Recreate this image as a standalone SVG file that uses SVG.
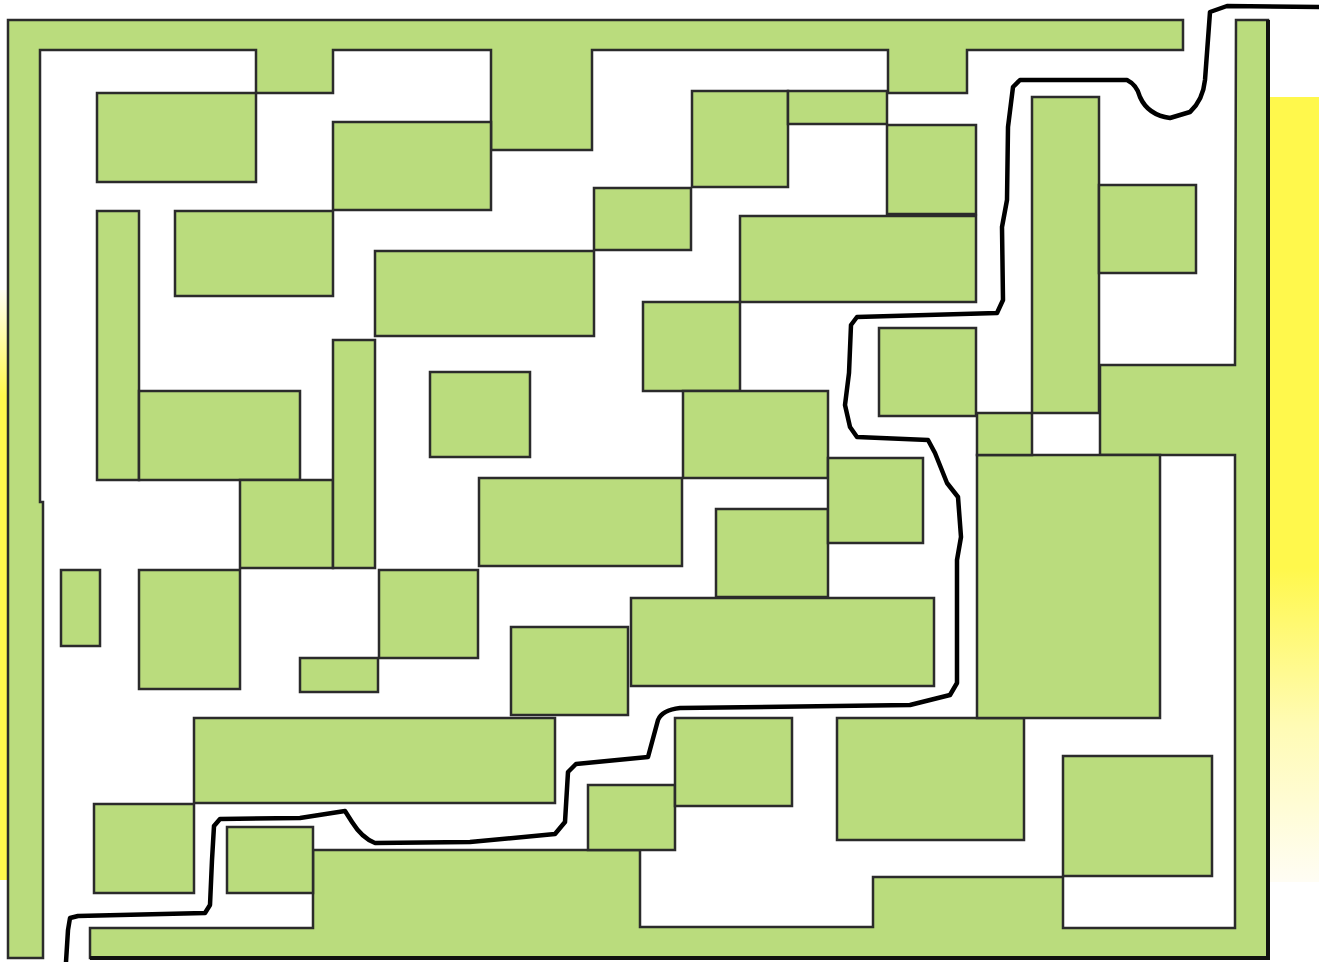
<svg xmlns="http://www.w3.org/2000/svg" width="1319" height="962" viewBox="0 0 1319 962">
<defs>
<linearGradient id="gR" x1="0" y1="0" x2="0" y2="1">
<stop offset="0" stop-color="#fff84c"/>
<stop offset="0.6" stop-color="#fff84c"/>
<stop offset="0.8" stop-color="#fffbb4"/>
<stop offset="1" stop-color="#fffdf4"/>
</linearGradient>
<linearGradient id="gL" x1="0" y1="0" x2="0" y2="1">
<stop offset="0" stop-color="#fffef2"/>
<stop offset="0.18" stop-color="#fff84c"/>
<stop offset="1" stop-color="#fff84c"/>
</linearGradient>
</defs>
<style>
.b{fill:#badc7d;stroke:#2b2b2b;stroke-width:2.5;stroke-linejoin:miter}
.edge{fill:none;stroke:#111;stroke-width:4}
.path{fill:none;stroke:#000;stroke-width:4.5;stroke-linejoin:round;stroke-linecap:round}
</style>
<rect width="1319" height="962" fill="#ffffff"/>
<rect x="1266" y="97" width="53" height="785" fill="url(#gR)"/>
<rect x="0" y="290" width="9" height="590" fill="url(#gL)"/>
<g id="frame-top-left">
<polygon class="b" points="8,20 1183,20 1183,50 967,50 967,93 888,93 888,50 592,50 592,150 491,150 491,50 333,50 333,93 256,93 256,50 40,50 40,502 43,502 43,958 8,958"/>
</g>
<g id="frame-bottom-right">
<polygon class="b" points="1236,20 1268,20 1268,958 90,958 90,928 313,928 313,850 640,850 640,927 873,927 873,877 1063,877 1063,928 1235,928 1235,455 1100,455 1100,365 1235,365"/>
<polyline class="edge" points="1268,20 1268,958 90,958"/>
</g>
<g id="b1"><rect class="b" x="97" y="93" width="159" height="89"/></g>
<g id="b2"><rect class="b" x="333" y="122" width="158" height="88"/></g>
<g id="b3"><rect class="b" x="97" y="211" width="42" height="269"/></g>
<g id="b4"><rect class="b" x="175" y="211" width="158" height="85"/></g>
<g id="b5"><rect class="b" x="375" y="251" width="219" height="85"/></g>
<g id="b6"><rect class="b" x="594" y="188" width="97" height="62"/></g>
<g id="b7"><rect class="b" x="692" y="91" width="96" height="96"/></g>
<g id="b8"><rect class="b" x="788" y="91" width="99" height="33"/></g>
<g id="b9"><rect class="b" x="887" y="125" width="89" height="89"/></g>
<g id="b10"><rect class="b" x="740" y="216" width="236" height="86"/></g>
<g id="b11"><rect class="b" x="643" y="302" width="97" height="89"/></g>
<g id="b12"><rect class="b" x="683" y="391" width="145" height="87"/></g>
<g id="b13"><rect class="b" x="479" y="478" width="203" height="88"/></g>
<g id="b14"><rect class="b" x="430" y="372" width="100" height="85"/></g>
<g id="b15"><rect class="b" x="716" y="509" width="112" height="88"/></g>
<g id="b16"><rect class="b" x="828" y="458" width="95" height="85"/></g>
<g id="b17"><rect class="b" x="631" y="598" width="303" height="88"/></g>
<g id="b18"><rect class="b" x="511" y="627" width="117" height="88"/></g>
<g id="b19"><rect class="b" x="139" y="391" width="161" height="89"/></g>
<g id="b20"><rect class="b" x="240" y="480" width="93" height="88"/></g>
<g id="b21"><rect class="b" x="333" y="340" width="42" height="228"/></g>
<g id="b22"><rect class="b" x="61" y="570" width="39" height="76"/></g>
<g id="b23"><rect class="b" x="139" y="570" width="101" height="119"/></g>
<g id="b24"><rect class="b" x="379" y="570" width="99" height="88"/></g>
<g id="b25"><rect class="b" x="300" y="658" width="78" height="34"/></g>
<g id="b26"><rect class="b" x="194" y="718" width="361" height="85"/></g>
<g id="b27"><rect class="b" x="94" y="804" width="100" height="89"/></g>
<g id="b28"><rect class="b" x="227" y="827" width="86" height="66"/></g>
<g id="b29"><rect class="b" x="588" y="785" width="87" height="65"/></g>
<g id="b30"><rect class="b" x="675" y="718" width="117" height="88"/></g>
<g id="b31"><rect class="b" x="837" y="718" width="187" height="122"/></g>
<g id="b32"><rect class="b" x="1063" y="756" width="149" height="120"/></g>
<g id="b33"><rect class="b" x="977" y="455" width="183" height="263"/></g>
<g id="b34"><rect class="b" x="977" y="413" width="55" height="42"/></g>
<g id="b35"><rect class="b" x="1032" y="97" width="67" height="316"/></g>
<g id="b36"><rect class="b" x="1099" y="185" width="97" height="88"/></g>
<g id="b37"><rect class="b" x="879" y="328" width="97" height="88"/></g>
<g id="connectors">
<path class="path" d="M66,962 L68,930 L70,918 L78,916 L205,913 L210,905 L212,860 L214,826 L220,819 L300,818 L345,811 L352,822 Q362,838 375,843 L470,842 L555,834 L565,822 L568,772 L576,764 L648,757 L658,720 Q662,710 680,708 L910,705 L930,700 L950,695 L957,683 L957,560 L961,537 L958,497 L947,483 L935,453 L928,440 L857,437 L850,427 L845,405 L849,373 L851,325 L857,317 L997,313 L1003,300 L1002,227 L1007,200 L1008,127 L1013,87 L1020,80 L1127,80 Q1137,85 1140,97 Q1148,115 1170,118 L1190,112 Q1203,100 1205,80 L1210,12 L1227,6 L1319,7"/>
</g>
</svg>
